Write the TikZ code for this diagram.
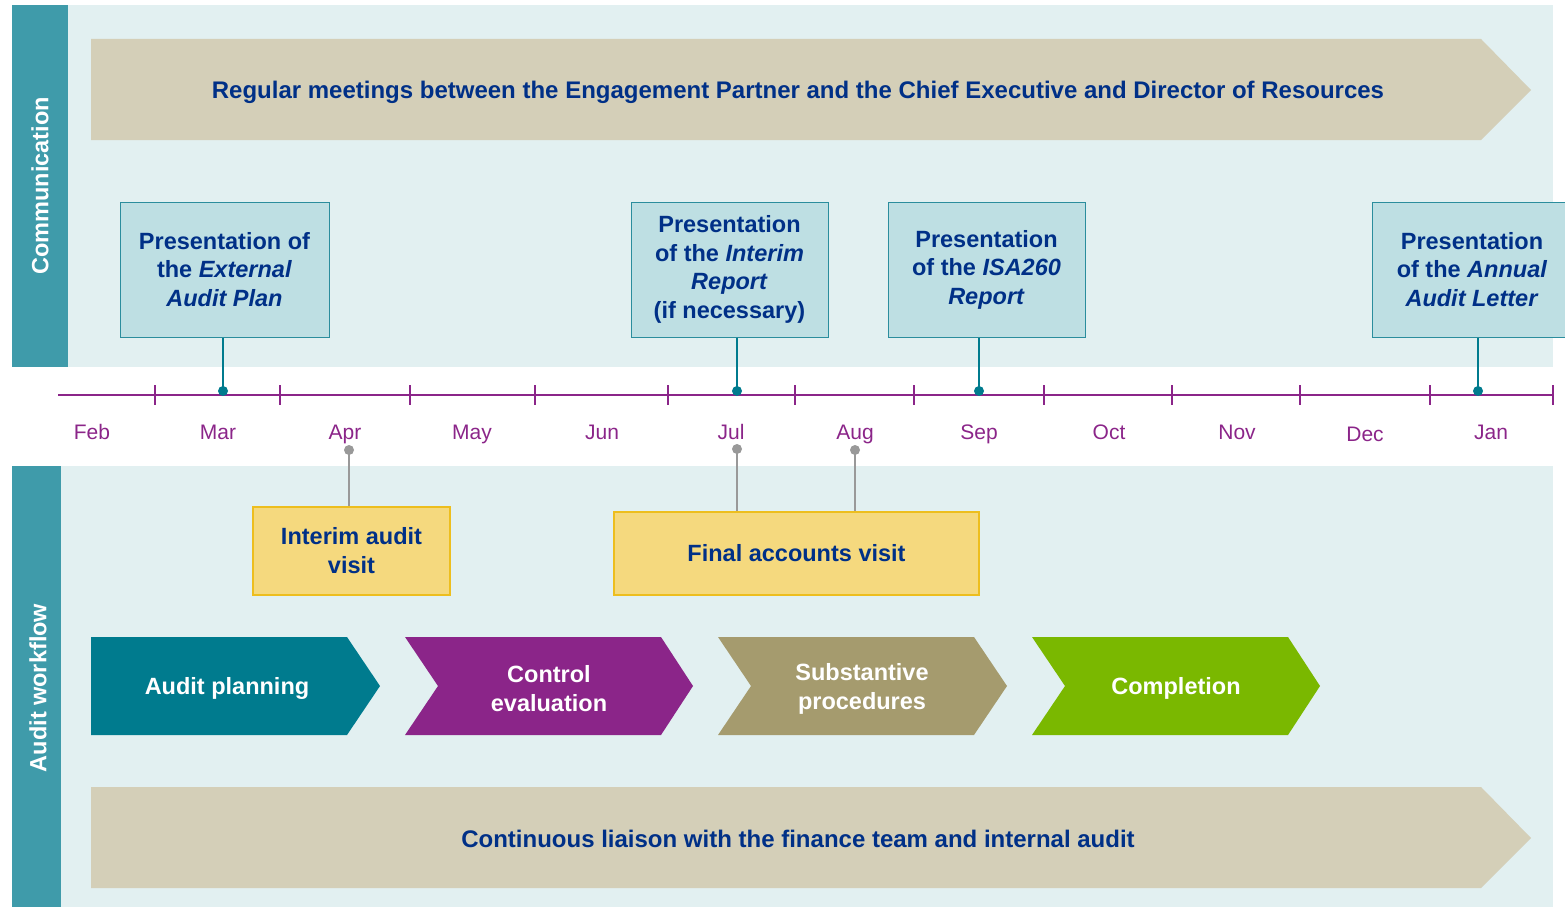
\documentclass[tikz,border=0pt]{standalone}
\usepackage{fontspec}
\setmainfont{Liberation Sans}
\definecolor{panel}{HTML}{E2F0F1}
\definecolor{sidebar}{HTML}{3F9BAA}
\definecolor{boxfill}{HTML}{BEDFE3}
\definecolor{boxline}{HTML}{2B8D9D}
\definecolor{navy}{HTML}{003087}
\definecolor{plum}{HTML}{8B2589}
\definecolor{sand}{HTML}{D4CFB8}
\definecolor{teal}{HTML}{007B8E}
\definecolor{olive}{HTML}{A59B6E}
\definecolor{lime}{HTML}{7AB800}
\definecolor{visitfill}{HTML}{F5D97E}
\definecolor{visitline}{HTML}{EDBE1E}
\tikzset{
  present/.style={draw=boxline, fill=boxfill, line width=1pt, text=navy, align=center,
    inner sep=0pt, font=\bfseries\fontsize{23.5}{28.5}\selectfont},
  visit/.style={draw=visitline, fill=visitfill, line width=1.5pt, text=navy, align=center,
    inner sep=0pt, font=\bfseries\fontsize{23.5}{29}\selectfont},
  banner/.style={text=navy, font=\bfseries\fontsize{24}{28}\selectfont},
  phase/.style={text=white, align=center, font=\bfseries\fontsize{23.5}{29}\selectfont},
  sidelabel/.style={text=white, rotate=90, font=\bfseries\fontsize{23.5}{28}\selectfont},
  month/.style={text=plum, anchor=base, font=\fontsize{21}{24}\selectfont},
  axisline/.style={draw=plum, line width=2.5pt},
  tealline/.style={draw=teal, line width=2pt},
  greyline/.style={draw=black!40, line width=2.5pt}
}
\begin{document}
\begin{tikzpicture}[x=1pt,y=-1pt]
  \useasboundingbox (0,0) rectangle (1565,907);
  % panels
  \fill[panel] (12,5) rectangle (1553,367);
  \fill[sidebar] (12,5) rectangle (68,367);
  \node[sidelabel] (comm) at (40,186) {Communication};
  \fill[panel] (12,466) rectangle (1553,907);
  \fill[sidebar] (12,466) rectangle (61,907);
  \node[sidelabel] (flow) at (38,688) {Audit workflow};

  % banners
  \fill[sand] (91,39) -- (1481,39) -- (1531,90) -- (1481,140) -- (91,140) -- cycle;
  \node[banner] (meet) at (798,92.5) {Regular meetings between the Engagement Partner and the Chief Executive and Director of Resources};
  \fill[sand] (91,787) -- (1481,787) -- (1531,838) -- (1481,888) -- (91,888) -- cycle;
  \node[banner] (liaison) at (798,839) {Continuous liaison with the finance team and internal audit};

  % time line
  \draw[axisline] (58,395) -- (1553,395);
  \foreach \x in {155,280,410,535,668,795,914,1044,1172,1300,1430,1553}
    \draw[axisline] (\x,385) -- (\x,405);
  \foreach \m/\x/\y in {Feb/92/439, Mar/218/439, Apr/345/439, May/472/439, Jun/602/439,
      Jul/731/439, Aug/855/439, Sep/979/439, Oct/1109/439, Nov/1237/439, Dec/1365/441, Jan/1491/439}
    \node[month] (m-\m) at (\x,\y) {\m};

  % communication
  \node[present, minimum width=209pt, minimum height=135pt] (plan) at (224.5,269.5)
    {Presentation of\\the \textit{External}\\\textit{Audit Plan}};
  \node[present, minimum width=197pt, minimum height=135pt] (interim) at (729.5,269.5)
    {Presentation\\of the \textit{Interim}\\\textit{Report}\\(if necessary)};
  \node[present, minimum width=197pt, minimum height=135pt] (isa) at (986.5,269.5)
    {Presentation\\of the \textit{ISA260}\\\textit{Report}};
  \node[present, minimum width=200pt, minimum height=135pt] (letter) at (1472,269.5)
    {Presentation\\of the \textit{Annual}\\\textit{Audit Letter}};
  \coordinate (d-plan) at (223,391);
  \coordinate (d-interim) at (737,391);
  \coordinate (d-isa) at (979,391);
  \coordinate (d-letter) at (1478,391);
  \foreach \b in {plan,interim,isa,letter}{
    \draw[tealline] (\b.south -| d-\b) -- (d-\b);
    \fill[teal] (d-\b) circle (5);
  }

  % visits
  \node[visit, minimum width=197pt, minimum height=88pt] (ivisit) at (351.5,551) {Interim audit\\visit};
  \node[visit, minimum width=365pt, minimum height=83pt] (fvisit) at (796.5,553.5) {Final accounts visit};
  \coordinate (g-apr) at (349,450);
  \coordinate (g-jul) at (737,449);
  \coordinate (g-aug) at (855,450);
  \draw[greyline] (g-apr) -- (ivisit.north -| g-apr);
  \draw[greyline] (g-jul) -- (fvisit.north -| g-jul);
  \draw[greyline] (g-aug) -- (fvisit.north -| g-aug);
  \foreach \g in {g-apr,g-jul,g-aug}
    \fill[black!40] (\g) circle (5);

  % workflow
  \fill[teal] (91,637) -- (347,637) -- (380,686) -- (347,735) -- (91,735) -- cycle;
  \node[phase] (planning) at (227,688.5) {Audit planning};
  \fill[plum] (405,637) -- (661,637) -- (693,686) -- (661,735) -- (405,735) -- (438,686) -- cycle;
  \node[phase] (control) at (549,688.5) {Control\\evaluation};
  \fill[olive] (718,637) -- (974,637) -- (1007,686) -- (974,735) -- (718,735) -- (751,686) -- cycle;
  \node[phase] (subst) at (862,688.5) {Substantive\\procedures};
  \fill[lime] (1032,637) -- (1288,637) -- (1320,686) -- (1288,735) -- (1032,735) -- (1065,686) -- cycle;
  \node[phase] (done) at (1176,688.5) {Completion};
\end{tikzpicture}
\end{document}
